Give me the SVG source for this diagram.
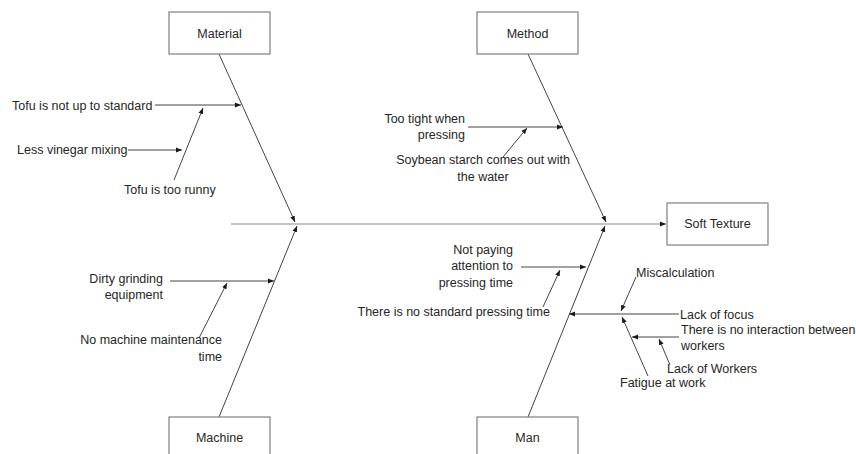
<svg xmlns="http://www.w3.org/2000/svg" width="856" height="454" viewBox="0 0 856 454">
<defs>
<marker id="ah" viewBox="0 0 10 10" refX="10" refY="5" markerWidth="6" markerHeight="6" markerUnits="userSpaceOnUse" orient="auto">
<path d="M0,1 L10,5 L0,9 Z" fill="#1a1a1a"/>
</marker>
<style>
.box{fill:#ffffff;stroke:#7f7f7f;stroke-width:1.2}
.lbl{font-family:"Liberation Sans",Arial,sans-serif;font-size:12.5px;fill:#262626}
.c{stroke:#444444;stroke-width:1;fill:none;marker-end:url(#ah)}
.sp{stroke:#8c8c8c;stroke-width:1.2;fill:none;marker-end:url(#ah)}
</style>
</defs>
<rect width="856" height="454" fill="#ffffff"/>
<g id="connectors">
<line class="sp" x1="231" y1="224" x2="666" y2="224"/>
<line class="c" x1="219" y1="54" x2="295" y2="222"/>
<line class="c" x1="219" y1="417" x2="297" y2="226"/>
<line class="c" x1="528" y1="54" x2="606" y2="222"/>
<line class="c" x1="528" y1="417" x2="605" y2="226"/>
<line class="c" x1="155" y1="105" x2="241" y2="105"/>
<line class="c" x1="128" y1="150" x2="182" y2="150"/>
<line class="c" x1="174" y1="180" x2="203" y2="108"/>
<line class="c" x1="468" y1="127" x2="563" y2="127"/>
<line class="c" x1="503" y1="157" x2="527" y2="128"/>
<line class="c" x1="170" y1="281" x2="274" y2="281"/>
<line class="c" x1="199" y1="338" x2="227" y2="283"/>
<line class="c" x1="521" y1="267" x2="586" y2="267"/>
<line class="c" x1="543" y1="307" x2="560" y2="270"/>
<line class="c" x1="679" y1="314" x2="569" y2="314"/>
<line class="c" x1="636" y1="277" x2="621" y2="311"/>
<line class="c" x1="648" y1="376" x2="622" y2="317"/>
<line class="c" x1="679" y1="337" x2="632" y2="337"/>
<line class="c" x1="670" y1="365" x2="659" y2="339"/>
</g>
<g id="material">
<rect class="box" x="169" y="12" width="101" height="42"/>
<text class="lbl" x="219.5" y="38" text-anchor="middle">Material</text>
</g>
<g id="method">
<rect class="box" x="477" y="12" width="101" height="42"/>
<text class="lbl" x="527.5" y="38" text-anchor="middle">Method</text>
</g>
<g id="soft-texture">
<rect class="box" x="667" y="203" width="101" height="42"/>
<text class="lbl" x="717.5" y="228" text-anchor="middle">Soft Texture</text>
</g>
<g id="machine">
<rect class="box" x="169" y="417" width="101" height="42"/>
<text class="lbl" x="219.5" y="442" text-anchor="middle">Machine</text>
</g>
<g id="man">
<rect class="box" x="477" y="417" width="101" height="42"/>
<text class="lbl" x="527.5" y="442" text-anchor="middle">Man</text>
</g>
<g id="tofu-not-standard"><text class="lbl" x="12" y="110">Tofu is not up to standard</text></g>
<g id="less-vinegar"><text class="lbl" x="17" y="154">Less vinegar mixing</text></g>
<g id="tofu-runny"><text class="lbl" x="124" y="194">Tofu is too runny</text></g>
<g id="too-tight"><text class="lbl" text-anchor="end"><tspan x="465" y="123">Too tight when</tspan><tspan x="465" y="139">pressing</tspan></text></g>
<g id="soybean-starch"><text class="lbl" text-anchor="middle"><tspan x="483" y="164">Soybean starch comes out with</tspan><tspan x="483" y="181">the water</tspan></text></g>
<g id="dirty-grinding"><text class="lbl" text-anchor="end"><tspan x="163" y="283">Dirty grinding</tspan><tspan x="163" y="299">equipment</tspan></text></g>
<g id="no-maintenance"><text class="lbl" text-anchor="end"><tspan x="222" y="344">No machine maintenance</tspan><tspan x="222" y="361">time</tspan></text></g>
<g id="not-paying"><text class="lbl" text-anchor="end"><tspan x="513" y="254">Not paying</tspan><tspan x="513" y="270">attention to</tspan><tspan x="513" y="287">pressing time</tspan></text></g>
<g id="no-standard-time"><text class="lbl" text-anchor="end" x="550" y="316">There is no standard pressing time</text></g>
<g id="miscalculation"><text class="lbl" x="636" y="277">Miscalculation</text></g>
<g id="lack-focus"><text class="lbl" x="680" y="319">Lack of focus</text></g>
<g id="no-interaction"><text class="lbl"><tspan x="681" y="334">There is no interaction between</tspan><tspan x="681" y="350">workers</tspan></text></g>
<g id="lack-workers"><text class="lbl" x="667" y="373">Lack of Workers</text></g>
<g id="fatigue"><text class="lbl" x="620" y="387">Fatigue at work</text></g>
</svg>
